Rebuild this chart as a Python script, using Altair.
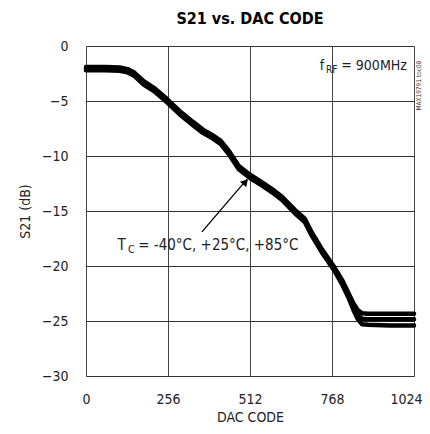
import altair as alt
import pandas as pd

codes = [0, 60, 105, 130, 150, 180, 212, 252, 292, 334, 365, 395, 420, 445, 477, 512,
         545, 581, 612, 652, 683, 704, 735, 775, 800, 820, 835, 848, 862, 880, 950, 1024]
s21_a = [-1.9, -1.9, -1.95, -2.1, -2.4, -3.2, -3.8, -4.8, -5.9, -6.9, -7.6, -8.1, -8.6, -9.5, -10.9, -11.7,
         -12.3, -13.0, -13.7, -14.9, -15.7, -16.9, -18.4, -20.1, -21.3, -22.5, -23.4, -24.0, -24.3, -24.35, -24.35, -24.35]
s21_b = [-2.05, -2.05, -2.1, -2.25, -2.55, -3.35, -3.95, -4.95, -6.05, -7.05, -7.75, -8.25, -8.75, -9.65, -11.05, -11.85,
         -12.45, -13.15, -13.85, -15.05, -15.85, -17.05, -18.55, -20.25, -21.5, -22.7, -23.7, -24.4, -24.8, -24.85, -24.85, -24.85]
s21_c = [-2.2, -2.2, -2.25, -2.4, -2.7, -3.5, -4.1, -5.1, -6.2, -7.2, -7.9, -8.4, -8.9, -9.8, -11.2, -12.0,
         -12.6, -13.3, -14.0, -15.2, -16.0, -17.2, -18.7, -20.4, -21.7, -22.9, -24.0, -24.8, -25.3, -25.35, -25.4, -25.4]
temps = ["-40°C", "+25°C", "+85°C"]
x_ticks = [0, 256, 512, 768, 1024]
y_ticks = [0, -5, -10, -15, -20, -25, -30]

rows = []
for t, s in zip(temps, [s21_a, s21_b, s21_c]):
    for c, v in zip(codes, s):
        rows.append({"code": c, "s21": v, "temp": t})
df = pd.DataFrame(rows)

FONT = "'Liberation Sans Narrow', 'DejaVu Sans Condensed', 'Roboto Condensed', 'Liberation Sans', sans-serif"

xs = alt.Scale(domain=[0, 1024], nice=False, zero=False)
ys = alt.Scale(domain=[-30, 0], nice=False, zero=False)

lines = alt.Chart(df).mark_line(color="black", strokeWidth=4.5, strokeJoin="round", strokeCap="round").encode(
    x=alt.X("code:Q", scale=xs, title="DAC CODE",
            axis=alt.Axis(values=x_ticks, format="d", grid=True, gridColor="#444", gridWidth=1,
                          ticks=False, domain=False, labelPadding=16, labelFontSize=14,
                          labelOffset={"condition": {"test": "datum.value == 1024", "value": -8}, "value": 0},
                          labelFont=FONT, titleFont=FONT, titleFontSize=14, titleFontWeight="normal",
                          titlePadding=4, labelColor="#222", titleColor="#222", labelFlush=False)),
    y=alt.Y("s21:Q", scale=ys, title="S21 (dB)",
            axis=alt.Axis(values=y_ticks, grid=True, gridColor="#333", gridWidth=1,
                          ticks=False, domain=False, labelPadding=18, labelFontSize=14,
                          labelFont=FONT, titleFont=FONT, titleFontSize=14, titleFontWeight="normal",
                          titlePadding=9, labelColor="#222", titleColor="#222", labelFlush=False)),
    detail="temp:N",
)

# annotation text pieces
ann = pd.DataFrame({
    "code": [98, 131, 163, 730, 749, 797],
    "s21": [-18.1, -18.5, -18.1, -1.8, -2.2, -1.8],
    "txt": ["T", "C", "= -40°C, +25°C, +85°C", "f", "RF", "= 900MHz"],
    "size": [15, 11, 15, 14, 10, 14],
})
ann_text = alt.Chart(ann).mark_text(align="left", baseline="middle", font=FONT, color="#222").encode(
    x=alt.X("code:Q", scale=xs), y=alt.Y("s21:Q", scale=ys), text="txt:N",
    size=alt.Size("size:Q", scale=None, legend=None),
)

arrow_df = pd.DataFrame({"code": [362, 503], "s21": [-16.9, -12.1]})
arrow_line = alt.Chart(arrow_df).mark_line(color="black", strokeWidth=1.3).encode(
    x=alt.X("code:Q", scale=xs), y=alt.Y("s21:Q", scale=ys))

head_df = pd.DataFrame({"code": [498], "s21": [-12.35]})
arrow_head = alt.Chart(head_df).mark_point(shape="triangle-up", filled=True, color="black",
                                           size=70, angle=42, opacity=1).encode(
    x=alt.X("code:Q", scale=xs), y=alt.Y("s21:Q", scale=ys))

side_df = pd.DataFrame({"code": [1040], "s21": [-3.6], "txt": ["MAX19791 toc08"]})
side = alt.Chart(side_df).mark_text(angle=270, font=FONT, fontSize=6.5, color="#333",
                                    align="center", baseline="middle").encode(
    x=alt.X("code:Q", scale=xs), y=alt.Y("s21:Q", scale=ys), text="txt:N")

chart = alt.layer(lines, arrow_line, arrow_head, ann_text, side).properties(
    width=328, height=330,
    title=alt.TitleParams("S21 vs. DAC CODE", font=FONT, fontSize=16, fontWeight="bold",
                          anchor="middle", color="black", offset=12),
    autosize=alt.AutoSizeParams(type="none"),
    padding={"left": 78, "top": 38, "right": 8, "bottom": 50},
).configure_view(stroke="black", strokeWidth=3).configure(background="white")

chart.save("out.html", embed_options={"renderer": "svg", "actions": False})
